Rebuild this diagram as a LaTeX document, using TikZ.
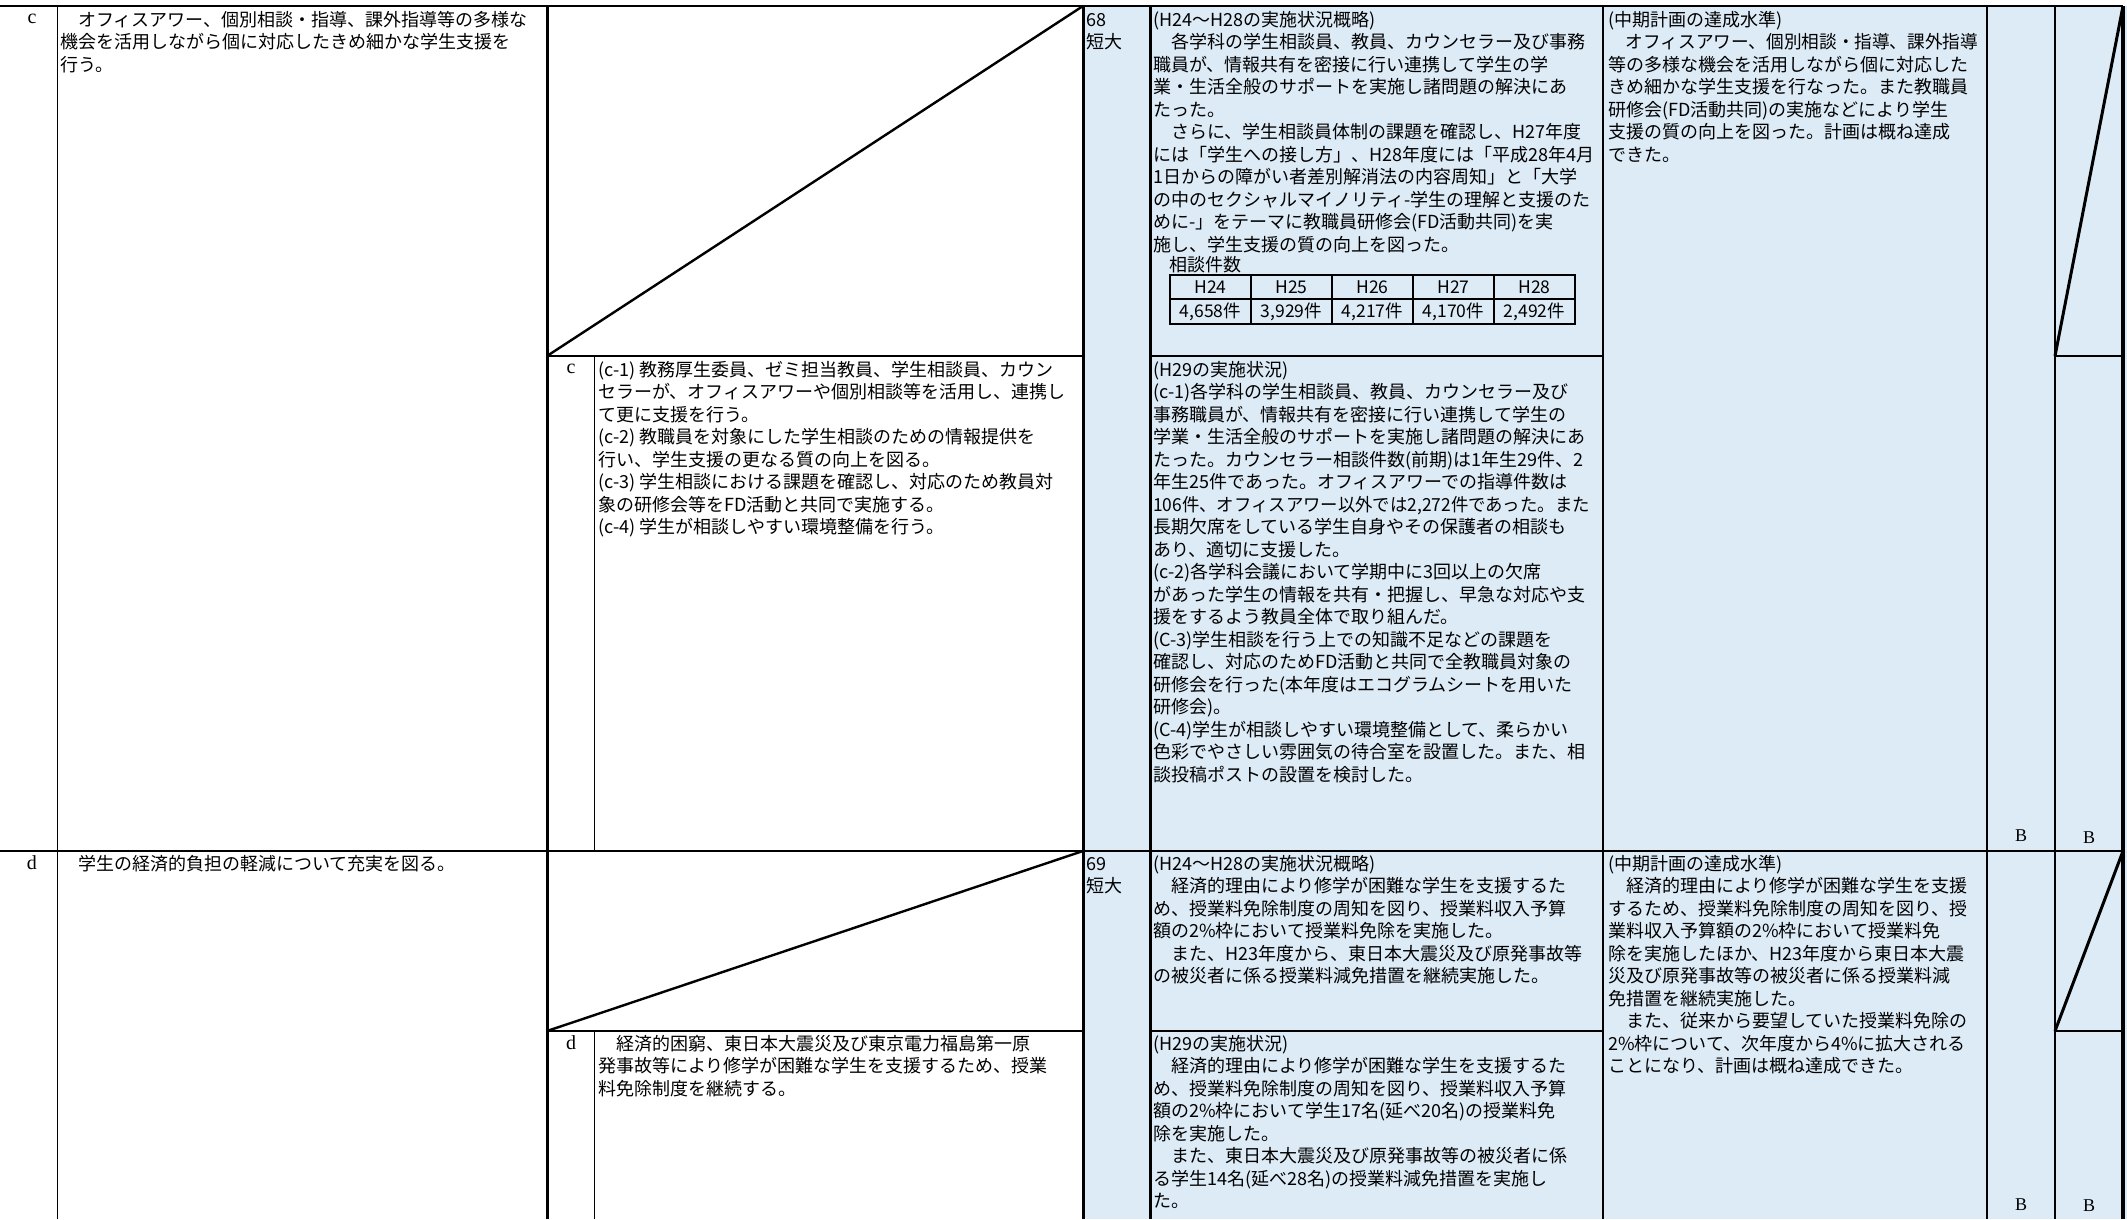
\documentclass[tikz,border=0pt]{standalone}
\usepackage{fontspec}
\usepackage{graphicx}
\newfontfamily\jp{Noto Sans CJK JP}
\newfontfamily\serifl{Liberation Serif}
\definecolor{cellblue}{RGB}{221,235,247}
\newcommand\fstrut{\rule{0pt}{16.5pt}}
\begin{document}
\begin{tikzpicture}[x=1pt,y=-1pt,
  txt/.style={anchor=north west, inner sep=0pt, align=left, font=\jp\fontsize{18}{22.5}\selectfont},
  lbl/.style={inner sep=0pt, font=\serifl\fontsize{20}{22}\selectfont},
  grade/.style={inner sep=0pt, font=\serifl\fontsize{18}{20}\selectfont},
  tcell/.style={inner sep=0pt, font=\jp\fontsize{17.5}{19}\selectfont},
  bw/.style={line width=3pt},
  mw/.style={line width=2.4pt},
  tw/.style={line width=1.6pt}]
\useasboundingbox (0,0) rectangle (2127,1219);
\fill[white] (0,0) rectangle (2127,1219);
\fill[cellblue] (1083,6) rectangle (2127,1219);
% horizontal rules
\draw[mw] (0,6) -- (2123,6);
\draw[tw] (0,851) -- (2123,851);
\draw[mw] (547,356) -- (1083,356);
\draw[mw] (1150,356) -- (1603,356);
\draw[tw] (2055,356) -- (2123,356);
\draw[mw] (547,1031) -- (1083,1031);
\draw[mw] (1150,1031) -- (1603,1031);
\draw[tw] (2055,1031) -- (2123,1031);
% vertical rules
\draw[tw] (57.5,6) -- (57.5,1219);
\draw[bw] (547,6) -- (547,1219);
\draw[tw] (594.5,356) -- (594.5,851);
\draw[tw] (594.5,1031) -- (594.5,1219);
\draw[bw] (1083,6) -- (1083,1219);
\draw[bw] (1150,6) -- (1150,1219);
\draw[tw] (1603,6) -- (1603,1219);
\draw[tw] (1987,6) -- (1987,1219);
\draw[mw] (2055,6) -- (2055,1219);
\draw[line width=3.5pt] (2123,6) -- (2123,1219);
% diagonals
\draw[mw] (547,356) -- (1083,6);
\draw[mw] (547,1031) -- (1083,851);
\draw[bw] (2055,356) -- (2123,6);
\draw[bw] (2055,1031) -- (2123,851);

% ---- row c ----
\node[lbl] (lc0) at (32,19) {c};
\node[txt] (lc) at (60,9.3) {\fstrut　オフィスアワー、個別相談・指導、課外指導等の多様な\\%
機会を活用しながら個に対応したきめ細かな学生支援を\\%
行う。};
\node[lbl] (mc0) at (571,369) {c};
\node[txt] (mc) at (598,359.3) {\fstrut(c-1) 教務厚生委員、ゼミ担当教員、学生相談員、カウン\\%
セラーが、オフィスアワーや個別相談等を活用し、連携し\\%
て更に支援を行う。\\%
(c-2) 教職員を対象にした学生相談のための情報提供を\\%
行い、学生支援の更なる質の向上を図る。\\%
(c-3) 学生相談における課題を確認し、対応のため教員対\\%
象の研修会等をFD活動と共同で実施する。\\%
(c-4) 学生が相談しやすい環境整備を行う。};
\node[txt] (n68) at (1086,9.3) {\fstrut 68\\短大};
\node[txt] (ac) at (1153,9.3) {\fstrut(H24～H28の実施状況概略)\\%
　各学科の学生相談員、教員、カウンセラー及び事務\\%
職員が、情報共有を密接に行い連携して学生の学\\%
業・生活全般のサポートを実施し諸問題の解決にあ\\%
たった。\\%
　さらに、学生相談員体制の課題を確認し、H27年度\\%
には「学生への接し方」、H28年度には「平成28年4月\\%
1日からの障がい者差別解消法の内容周知」と「大学\\%
の中のセクシャルマイノリティ-学生の理解と支援のた\\%
めに-」をテーマに教職員研修会(FD活動共同)を実\\%
施し、学生支援の質の向上を図った。};
\node[tcell, anchor=west, font=\jp\fontsize{18}{20}\selectfont] (cnt) at (1169,265) {相談件数};
\draw[line width=1.8pt] (1170,275) rectangle (1575,324);
\draw[line width=1.8pt] (1170,299) -- (1575,299);
\foreach \xx in {1251,1332,1413,1494} \draw[line width=1.8pt] (\xx,275) -- (\xx,324);
\node[tcell] (h24) at (1210.5,287) {H24};
\node[tcell] (h25) at (1291.5,287) {H25};
\node[tcell] (h26) at (1372.5,287) {H26};
\node[tcell] (h27) at (1453.5,287) {H27};
\node[tcell] (h28) at (1534.5,287) {H28};
\node[tcell] (v24) at (1210.5,311.5) {4,658件};
\node[tcell] (v25) at (1291.5,311.5) {3,929件};
\node[tcell] (v26) at (1372.5,311.5) {4,217件};
\node[tcell] (v27) at (1453.5,311.5) {4,170件};
\node[tcell] (v28) at (1534.5,311.5) {2,492件};
\node[txt] (bc) at (1153,359.3) {\fstrut(H29の実施状況)\\%
(c-1)各学科の学生相談員、教員、カウンセラー及び\\%
事務職員が、情報共有を密接に行い連携して学生の\\%
学業・生活全般のサポートを実施し諸問題の解決にあ\\%
たった。カウンセラー相談件数(前期)は1年生29件、2\\%
年生25件であった。オフィスアワーでの指導件数は\\%
\scalebox{0.965}[1]{106件、オフィスアワー以外では2,272件であった。また}\\%
長期欠席をしている学生自身やその保護者の相談も\\%
あり、適切に支援した。\\%
(c-2)各学科会議において学期中に3回以上の欠席\\%
があった学生の情報を共有・把握し、早急な対応や支\\%
援をするよう教員全体で取り組んだ。\\%
(C-3)学生相談を行う上での知識不足などの課題を\\%
確認し、対応のためFD活動と共同で全教職員対象の\\%
研修会を行った(本年度はエコグラムシートを用いた\\%
研修会)。\\%
(C-4)学生が相談しやすい環境整備として、柔らかい\\%
色彩でやさしい雰囲気の待合室を設置した。また、相\\%
談投稿ポストの設置を検討した。};
\node[txt] (rc) at (1608,9.3) {\fstrut(中期計画の達成水準)\\%
\scalebox{0.98}[1]{　オフィスアワー、個別相談・指導、課外指導}\\%
等の多様な機会を活用しながら個に対応した\\%
きめ細かな学生支援を行なった。また教職員\\%
研修会(FD活動共同)の実施などにより学生\\%
支援の質の向上を図った。計画は概ね達成\\%
できた。};
\node[grade] (gc1) at (2021,836) {B};
\node[grade] (gc2) at (2089,838) {B};

% ---- row d ----
\node[lbl] (ld0) at (32,863) {d};
\node[txt] (ld) at (60,853.3) {\fstrut　学生の経済的負担の軽減について充実を図る。};
\node[lbl] (md0) at (571,1043) {d};
\node[txt] (md) at (598,1033.3) {\fstrut　経済的困窮、東日本大震災及び東京電力福島第一原\\%
発事故等により修学が困難な学生を支援するため、授業\\%
料免除制度を継続する。};
\node[txt] (n69) at (1086,853.3) {\fstrut 69\\短大};
\node[txt] (ad) at (1153,853.3) {\fstrut(H24～H28の実施状況概略)\\%
　経済的理由により修学が困難な学生を支援するた\\%
め、授業料免除制度の周知を図り、授業料収入予算\\%
額の2\%枠において授業料免除を実施した。\\%
　また、H23年度から、東日本大震災及び原発事故等\\%
の被災者に係る授業料減免措置を継続実施した。};
\node[txt] (bd) at (1153,1033.3) {\fstrut(H29の実施状況)\\%
　経済的理由により修学が困難な学生を支援するた\\%
め、授業料免除制度の周知を図り、授業料収入予算\\%
額の2\%枠において学生17名(延べ20名)の授業料免\\%
除を実施した。\\%
　また、東日本大震災及び原発事故等の被災者に係\\%
る学生14名(延べ28名)の授業料減免措置を実施し\\%
た。};
\node[txt] (rd) at (1608,853.3) {\fstrut(中期計画の達成水準)\\%
　経済的理由により修学が困難な学生を支援\\%
するため、授業料免除制度の周知を図り、授\\%
業料収入予算額の2\%枠において授業料免\\%
除を実施したほか、H23年度から東日本大震\\%
災及び原発事故等の被災者に係る授業料減\\%
免措置を継続実施した。\\%
　また、従来から要望していた授業料免除の\\%
2\%枠について、次年度から4\%に拡大される\\%
ことになり、計画は概ね達成できた。};
\node[grade] (gd1) at (2021,1205) {B};
\node[grade] (gd2) at (2089,1206) {B};
\end{tikzpicture}
\end{document}
